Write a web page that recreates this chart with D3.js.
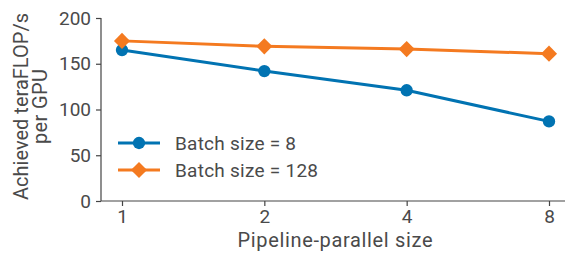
<!DOCTYPE html>
<html>
<head>
<meta charset="utf-8">
<script src="https://cdn.jsdelivr.net/npm/d3@7"></script>
<style>
  body { margin: 0; background: #fff; }
  text { font-family: Roboto, sans-serif; fill: #4a4a4a; }
</style>
</head>
<body>
<script>
var width = 568,
    height = 254;

var sizes = ['1', '2', '4', '8'];
var batch8 = [165, 142, 121, 87];
var batch128 = [175, 169, 166, 161];
var yTicks = [0, 50, 100, 150, 200];

var series = [
  { name: 'Batch size = 8', values: batch8, color: '#0173b2', shape: 'circle', w: 121 },
  { name: 'Batch size = 128', values: batch128, color: '#f47a20', shape: 'diamond', w: 143 }
];

var x = d3.scalePoint().domain(sizes).range([122, 549]);
var y = d3.scaleLinear().domain([0, 200]).range([201, 18]);

var svg = d3.select('body').append('svg')
  .attr('width', width)
  .attr('height', height);

var axisColor = '#444';

// y axis
var gy = svg.append('g')
  .attr('transform', 'translate(101,0)')
  .call(d3.axisLeft(y).tickValues(yTicks).tickSize(5).tickPadding(5));
gy.select('.domain').remove();
gy.selectAll('.tick line').attr('stroke', axisColor).attr('stroke-width', 1.2);
gy.selectAll('.tick text').style('font-size', '19px').attr('fill', '#4a4a4a');

// x axis
var gx = svg.append('g')
  .attr('transform', 'translate(0,201)')
  .call(d3.axisBottom(x).tickSize(5).tickPadding(4));
gx.select('.domain').remove();
gx.selectAll('.tick line').attr('stroke', axisColor).attr('stroke-width', 1.2);
gx.selectAll('.tick text').style('font-size', '19px').attr('fill', '#4a4a4a');

// spines
svg.append('line')
  .attr('x1', 101).attr('x2', 101)
  .attr('y1', y(200)).attr('y2', 201)
  .attr('stroke', axisColor).attr('stroke-width', 1.2);
svg.append('line')
  .attr('x1', 101).attr('x2', 565)
  .attr('y1', 201).attr('y2', 201)
  .attr('stroke', axisColor).attr('stroke-width', 1.2);

// axis labels
svg.append('text')
  .attr('x', 335)
  .attr('y', 247)
  .attr('text-anchor', 'middle')
  .attr('textLength', 195)
  .style('font-size', '20px')
  .text('Pipeline-parallel size');

var ylab = svg.append('text')
  .attr('transform', 'translate(28,106.5) rotate(-90)')
  .attr('text-anchor', 'middle')
  .style('font-size', '20px');
ylab.append('tspan').attr('x', 0).attr('y', 0).attr('textLength', 187).text('Achieved teraFLOP/s');
ylab.append('tspan').attr('x', 0).attr('y', 19).attr('textLength', 75).text('per GPU');

var line = d3.line()
  .x(function(d, i) { return x(sizes[i]); })
  .y(function(d) { return y(d); });

var circle = d3.symbol().type(d3.symbolCircle).size(120);
var diamond = d3.symbol().type(d3.symbolSquare).size(130);

function marker(s) {
  return s.shape === 'circle' ? circle() : diamond();
}
function rot(s) {
  return s.shape === 'circle' ? '' : ' rotate(45)';
}

series.forEach(function(s) {
  svg.append('path')
    .datum(s.values)
    .attr('d', line)
    .attr('fill', 'none')
    .attr('stroke', s.color)
    .attr('stroke-width', 3);

  svg.selectAll(null)
    .data(s.values)
    .enter().append('path')
    .attr('d', marker(s))
    .attr('transform', function(d, i) {
      return 'translate(' + x(sizes[i]) + ',' + y(d) + ')' + rot(s);
    })
    .attr('fill', s.color);
});

// legend
var legend = svg.append('g');
series.forEach(function(s, i) {
  var ly = 143 + i * 27;
  legend.append('line')
    .attr('x1', 118).attr('x2', 160)
    .attr('y1', ly).attr('y2', ly)
    .attr('stroke', s.color)
    .attr('stroke-width', 3);
  legend.append('path')
    .attr('d', marker(s))
    .attr('transform', 'translate(139,' + ly + ')' + rot(s))
    .attr('fill', s.color);
  legend.append('text')
    .attr('x', 175)
    .attr('y', ly)
    .attr('dy', '0.35em')
    .attr('textLength', s.w)
    .style('font-size', '19px')
    .text(s.name);
});
</script>
</body>
</html>
